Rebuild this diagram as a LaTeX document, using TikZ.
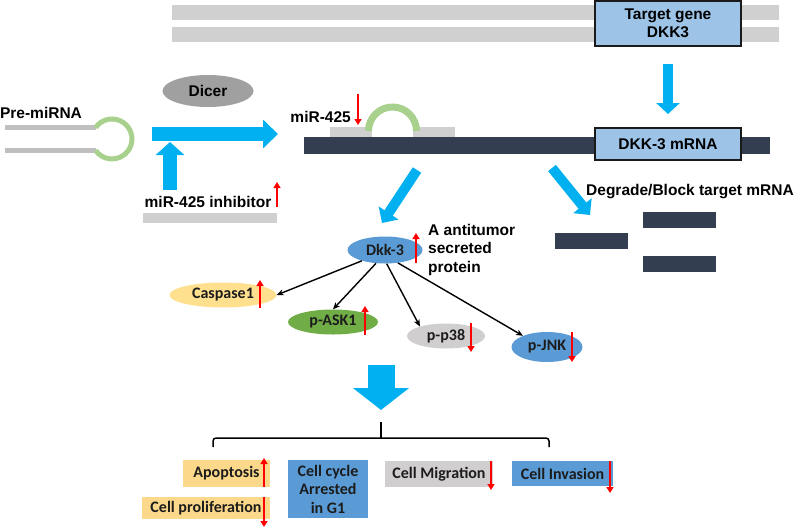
\documentclass[tikz,border=0pt]{standalone}
\usepackage{fontspec}
\setmainfont{Liberation Sans}
\newfontfamily\calfont{Carlito}
\usepackage{tikz}
\usetikzlibrary{arrows.meta,positioning,shapes.geometric}
\definecolor{fatblue}{HTML}{00B0F0}
\definecolor{boxblue}{HTML}{9DC3E6}
\definecolor{protblue}{HTML}{5B9BD5}
\definecolor{boxline}{HTML}{1A1A1A}
\definecolor{darkbar}{HTML}{333F50}
\definecolor{bargray}{HTML}{D0D0D0}
\definecolor{stemgray}{HTML}{BFBFBF}
\definecolor{dicergray}{HTML}{A0A0A0}
\definecolor{loopgreen}{HTML}{A9D18E}
\definecolor{askgreen}{HTML}{70AD47}
\definecolor{caspyellow}{HTML}{FFE08F}
\definecolor{apoyellow}{HTML}{FCD98A}
\definecolor{softgray}{HTML}{D0CECE}
\definecolor{textdark}{HTML}{1C1C1C}
\newcommand{\arialbf}{\fontsize{15.5}{18.5}\selectfont\bfseries}
\newcommand{\calibf}{\calfont\fontsize{16}{18.5}\selectfont\bfseries}
\tikzset{
  lbl/.style={inner sep=0pt, font=\arialbf},
  genebox/.style={
    rectangle, draw=boxline, line width=2pt, fill=boxblue,
    minimum width=146pt, align=center, font=\arialbf, inner sep=0pt
  },
  protnode/.style={
    ellipse, inner sep=0pt, font=\calibf, text=textdark
  },
  effectbox/.style={
    rectangle, inner sep=0pt, font=\calibf, text=textdark, align=center
  },
  fatarrow/.style={fatblue, line width=14pt, -{Triangle[length=15pt,width=28pt]}},
  slimfat/.style={fatblue, line width=10pt, -{Triangle[length=12pt,width=23pt]}},
  sigarrow/.style={-{Stealth[length=7pt,width=6pt]}, line width=1.4pt, black},
  upmark/.style={red, line width=2.2pt, -{Triangle[length=6pt,width=7pt]}},
}

\begin{document}
\begin{tikzpicture}[x=1pt, y=-1pt]
  \useasboundingbox (0,0) rectangle (800,528);

  % gene and mRNA strands
  \fill[bargray] (172,5) rectangle (779,20);
  \fill[bargray] (172,27) rectangle (779,42);
  \fill[darkbar] (304,137) rectangle (770,154);

  \node[genebox, minimum height=45pt] (target) at (668,23.5) {Target gene\\DKK3};
  \node[genebox, minimum height=32pt, below=80pt of target] (mrna) {DKK-3 mRNA};
  \draw[fatarrow, line width=10pt, -{Triangle[length=11pt,width=23pt]},
        shorten <=17pt, shorten >=13pt] (target) -- (mrna);

  % pre-miRNA hairpin
  \node[lbl] (premi) at (41,113) {Pre-miRNA};
  \draw[stemgray, line width=5pt] (5,127.5) -- (96,127.5);
  \draw[stemgray, line width=5pt] (5,150.5) -- (96,150.5);
  \draw[loopgreen, line width=5pt] (95.6,127.5) arc[start angle=-145, end angle=145, radius=20];

  \node[ellipse, fill=dicergray, minimum width=91pt, minimum height=32pt,
        inner sep=0pt, font=\arialbf] (dicer) at (208,91) {Dicer};

  \coordinate (procstart) at (152,134);
  \coordinate (procend) at (278,134);
  \draw[fatarrow] (procstart) -- (procend);

  \coordinate (inhibstart) at (170,190);
  \coordinate (inhibend) at (170,142);
  \draw[fatarrow, -{Triangle[length=13pt,width=28pt]}] (inhibstart) -- (inhibend);
  \node[lbl] (inhib) at (208,202) {miR-425 inhibitor};
  \fill[bargray] (143,213) rectangle (277,223);
  \draw[upmark] (277,207) -- (277,182);

  % mature miRNA on target
  \node[lbl, anchor=east] (mir) at (351,117) {miR-425};
  \draw[upmark] (358,94) -- (358,125);
  \fill[bargray] (330,127) rectangle (372,137);
  \fill[bargray] (413,127) rectangle (455,137);
  \draw[loopgreen, line width=7pt] (368.5,131) arc[start angle=180, end angle=360, radius=24];

  % outcomes of binding
  \coordinate (splitL) at (417,170);
  \coordinate (splitLend) at (382,223);
  \draw[slimfat] (splitL) -- (splitLend);
  \coordinate (splitR) at (552,168);
  \coordinate (splitRend) at (590,215);
  \draw[slimfat] (splitR) -- (splitRend);

  \node[lbl, anchor=west] (degr) at (586,192) {Degrade/Block target mRNA};
  \fill[darkbar] (643,212) rectangle (716,228);
  \fill[darkbar] (555,233) rectangle (628,249);
  \fill[darkbar] (643,256) rectangle (716,272);

  % Dkk-3 signalling
  \node[protnode, fill=protblue, minimum width=75pt, minimum height=27pt] (dkk) at (385,250) {Dkk-3};
  \draw[upmark] (416,263) -- (416,233);
  \node[lbl, anchor=north west, align=left] (antitum) at (428,224) {A antitumor\\secreted\\protein};

  \node[protnode, fill=caspyellow, minimum width=107pt, minimum height=25pt] (casp) at (223,295) {Caspase1};
  \node[protnode, fill=askgreen, minimum width=90pt, minimum height=25pt] (ask) at (333,322) {p-ASK1};
  \node[protnode, fill=softgray, minimum width=78pt, minimum height=25pt] (p38) at (446,336) {p-p38};
  \node[protnode, fill=protblue, minimum width=71pt, minimum height=30pt] (jnk) at (547,347) {p-JNK};

  \draw[sigarrow] (dkk.205) -- (casp.east);
  \draw[sigarrow] (dkk.236) -- (ask.north);
  \draw[sigarrow] (dkk.277) -- (p38.160);
  \draw[sigarrow] (dkk.315) -- (jnk.155);

  \draw[upmark] (260,308) -- (260,280);
  \draw[upmark] (365,335) -- (365,306);
  \draw[upmark] (471,323) -- (471,352);
  \draw[upmark] (572,332) -- (572,362);

  % cellular effects
  \coordinate (effstart) at (381,365);
  \coordinate (effend) at (381,410);
  \draw[fatarrow, line width=27pt, -{Triangle[length=22pt,width=55pt]}] (effstart) -- (effend);
  \draw[line width=1.5pt, rounded corners=3pt] (213,447) |- (549,438) -- (549,447);
  \draw[line width=1.5pt] (381,438) -- (381,422);

  \node[effectbox, fill=apoyellow, minimum width=87pt, minimum height=27pt] (apo) at (226.5,473.5) {Apoptosis};
  \node[effectbox, fill=apoyellow, minimum width=128pt, minimum height=22pt] (prolif) at (206,508) {Cell proliferation};
  \node[effectbox, fill=protblue, minimum width=80pt, minimum height=58pt] (cycle) at (328,489) {Cell cycle\\Arrested\\in G1};
  \node[effectbox, fill=softgray, minimum width=108pt, minimum height=26pt] (migr) at (439,474) {Cell Migration};
  \node[effectbox, fill=protblue, minimum width=101pt, minimum height=25pt] (inva) at (562.5,473.5) {Cell Invasion};

  \draw[upmark] (264,487) -- (264,458);
  \draw[upmark] (264,497) -- (264,527);
  \draw[upmark] (491,461) -- (491,490);
  \draw[upmark] (610,461) -- (610,493);
\end{tikzpicture}
\end{document}
